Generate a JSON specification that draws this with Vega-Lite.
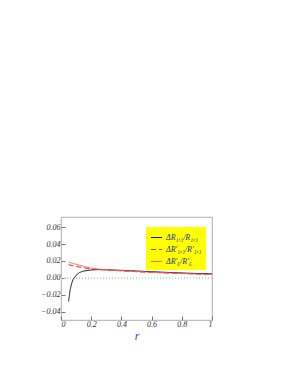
{
  "$schema": "https://vega.github.io/schema/vega-lite/v6.json",
  "width": 151,
  "height": 103,
  "padding": {"left": 40, "top": 217, "right": 5, "bottom": 5},
  "background": "white",
  "config": {
    "view": {"stroke": "#999", "strokeWidth": 0.8},
    "font": "Liberation Serif",
    "axis": {"labelOverlap": false}
  },
  "datasets": {
    "curves": [
      {"r": 0.05, "v": -0.028, "s": "ΔR₁,₃/R₁,₃"},
      {"r": 0.06, "v": -0.015, "s": "ΔR₁,₃/R₁,₃"},
      {"r": 0.07, "v": -0.007, "s": "ΔR₁,₃/R₁,₃"},
      {"r": 0.08, "v": -0.002, "s": "ΔR₁,₃/R₁,₃"},
      {"r": 0.1, "v": 0.003, "s": "ΔR₁,₃/R₁,₃"},
      {"r": 0.12, "v": 0.006, "s": "ΔR₁,₃/R₁,₃"},
      {"r": 0.15, "v": 0.008, "s": "ΔR₁,₃/R₁,₃"},
      {"r": 0.2, "v": 0.0093, "s": "ΔR₁,₃/R₁,₃"},
      {"r": 0.25, "v": 0.0097, "s": "ΔR₁,₃/R₁,₃"},
      {"r": 0.3, "v": 0.0095, "s": "ΔR₁,₃/R₁,₃"},
      {"r": 0.4, "v": 0.0088, "s": "ΔR₁,₃/R₁,₃"},
      {"r": 0.5, "v": 0.008, "s": "ΔR₁,₃/R₁,₃"},
      {"r": 0.6, "v": 0.0072, "s": "ΔR₁,₃/R₁,₃"},
      {"r": 0.7, "v": 0.0064, "s": "ΔR₁,₃/R₁,₃"},
      {"r": 0.8, "v": 0.0057, "s": "ΔR₁,₃/R₁,₃"},
      {"r": 0.9, "v": 0.0051, "s": "ΔR₁,₃/R₁,₃"},
      {"r": 1.0, "v": 0.0046, "s": "ΔR₁,₃/R₁,₃"},
      {"r": 0.05, "v": 0.0155, "s": "ΔR′₁,₃/R′₁,₃"},
      {"r": 0.1, "v": 0.0135, "s": "ΔR′₁,₃/R′₁,₃"},
      {"r": 0.15, "v": 0.0118, "s": "ΔR′₁,₃/R′₁,₃"},
      {"r": 0.2, "v": 0.0105, "s": "ΔR′₁,₃/R′₁,₃"},
      {"r": 0.3, "v": 0.0092, "s": "ΔR′₁,₃/R′₁,₃"},
      {"r": 0.4, "v": 0.0082, "s": "ΔR′₁,₃/R′₁,₃"},
      {"r": 0.5, "v": 0.0072, "s": "ΔR′₁,₃/R′₁,₃"},
      {"r": 0.6, "v": 0.0064, "s": "ΔR′₁,₃/R′₁,₃"},
      {"r": 0.7, "v": 0.0057, "s": "ΔR′₁,₃/R′₁,₃"},
      {"r": 0.8, "v": 0.005, "s": "ΔR′₁,₃/R′₁,₃"},
      {"r": 0.9, "v": 0.0044, "s": "ΔR′₁,₃/R′₁,₃"},
      {"r": 1.0, "v": 0.0039, "s": "ΔR′₁,₃/R′₁,₃"},
      {"r": 0.05, "v": 0.0185, "s": "ΔR′₆/R′₆"},
      {"r": 0.1, "v": 0.016, "s": "ΔR′₆/R′₆"},
      {"r": 0.15, "v": 0.0135, "s": "ΔR′₆/R′₆"},
      {"r": 0.2, "v": 0.0115, "s": "ΔR′₆/R′₆"},
      {"r": 0.25, "v": 0.0103, "s": "ΔR′₆/R′₆"},
      {"r": 0.3, "v": 0.0095, "s": "ΔR′₆/R′₆"},
      {"r": 0.4, "v": 0.0084, "s": "ΔR′₆/R′₆"},
      {"r": 0.5, "v": 0.0074, "s": "ΔR′₆/R′₆"},
      {"r": 0.6, "v": 0.0065, "s": "ΔR′₆/R′₆"},
      {"r": 0.7, "v": 0.0058, "s": "ΔR′₆/R′₆"},
      {"r": 0.8, "v": 0.0051, "s": "ΔR′₆/R′₆"},
      {"r": 0.9, "v": 0.0045, "s": "ΔR′₆/R′₆"},
      {"r": 1.0, "v": 0.004, "s": "ΔR′₆/R′₆"}
    ]
  },
  "data": {"name": "curves"},
  "layer": [
    {
      "mark": {"type": "rule", "color": "#b8e6b8", "strokeDash": [1, 2], "strokeWidth": 0.5},
      "encoding": {"y": {"datum": 0}}
    },
    {
      "mark": {"type": "line", "strokeWidth": 1, "clip": true},
      "encoding": {
        "x": {
          "field": "r", "type": "quantitative",
          "scale": {"domain": [0, 1], "nice": false},
          "axis": {
            "title": "r", "titleFont": "Liberation Serif", "titleFontStyle": "italic", "titleFontWeight": "normal",
            "titleColor": "#3344cc", "titleFontSize": 12, "titlePadding": 2,
            "values": [0, 0.2, 0.4, 0.6, 0.8, 1], "tickCount": 12,
            "labelExpr": "datum.value == 0 ? '0' : datum.value == 1 ? '1' : format(datum.value, '.1f')",
            "labelFont": "Liberation Serif", "labelFontStyle": "italic", "labelFontSize": 8, "labelColor": "#333",
            "tickSize": -4, "tickColor": "#777", "domain": false, "grid": false, "labelPadding": 4
          }
        },
        "y": {
          "field": "v", "type": "quantitative",
          "scale": {"domain": [-0.05, 0.072], "nice": false},
          "axis": {
            "title": null,
            "values": [-0.04, -0.02, 0, 0.02, 0.04, 0.06], "tickCount": 12,
            "labelExpr": "replace(format(datum.value, '.2f'), '-', '−')",
            "labelFont": "Liberation Serif", "labelFontStyle": "italic", "labelFontSize": 8, "labelColor": "#333",
            "labelOverlap": false,
            "tickSize": -4, "tickColor": "#777", "domain": false, "grid": false, "labelPadding": 5
          }
        },
        "color": {
          "field": "s", "type": "nominal",
          "scale": {"domain": ["ΔR₁,₃/R₁,₃", "ΔR′₁,₃/R′₁,₃", "ΔR′₆/R′₆"], "range": ["#111111", "#ee2222", "#ff6666"]},
          "legend": {
            "title": null, "orient": "none", "legendX": 85, "legendY": 10,
            "fillColor": "#ffff00", "padding": 4, "symbolType": "stroke", "symbolSize": 120, "symbolStrokeWidth": 1.2,
            "labelFont": "Liberation Serif", "labelFontStyle": "italic", "labelFontSize": 8, "labelColor": "#2233aa",
            "rowPadding": 1, "labelOffset": 3
          }
        },
        "strokeDash": {
          "field": "s", "type": "nominal",
          "scale": {"domain": ["ΔR₁,₃/R₁,₃", "ΔR′₁,₃/R′₁,₃", "ΔR′₆/R′₆"], "range": [[1, 0], [5, 3], [1, 0]]}
        }
      }
    }
  ]
}
